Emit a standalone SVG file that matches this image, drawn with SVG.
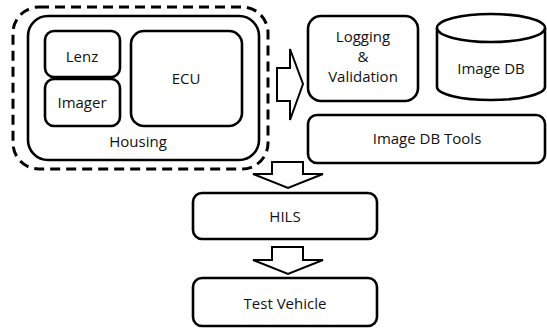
<svg xmlns="http://www.w3.org/2000/svg" width="547" height="330" viewBox="0 0 547 330">
<style>
.b{fill:#fff;stroke:#000;stroke-width:2.6}
.a{fill:#fff;stroke:#000;stroke-width:2;stroke-linejoin:miter}
.d{fill:none;stroke:#000;stroke-width:3;stroke-dasharray:10 6}
text{font-family:"Open Sans","Noto Sans","DejaVu Sans",sans-serif;font-size:15px;fill:#111;text-anchor:middle}
</style>
<rect width="547" height="330" fill="#fff"/>
<g id="camera-group">
<rect class="d" x="13" y="7" width="255" height="162" rx="26"/>
</g>
<g id="housing">
<rect class="b" x="28" y="16" width="231" height="144" rx="20"/>
<text x="138" y="147">Housing</text>
</g>
<g id="lenz">
<rect class="b" x="45" y="31" width="75" height="46" rx="9"/>
<text x="82" y="62">Lenz</text>
</g>
<g id="imager">
<rect class="b" x="45" y="79" width="75" height="47" rx="9"/>
<text x="82" y="108">Imager</text>
</g>
<g id="ecu">
<rect class="b" x="131" y="31" width="111" height="95" rx="13"/>
<text x="186" y="84">ECU</text>
</g>
<g id="logging">
<rect class="b" x="308" y="16" width="110" height="85" rx="13"/>
<text x="363" y="42">Logging</text>
<text x="363" y="62">&amp;</text>
<text x="363" y="82">Validation</text>
</g>
<g id="image-db">
<path class="b" d="M437,28 L437,87 A54,13 0 0,0 545,87 L545,28"/>
<ellipse class="b" cx="491" cy="28" rx="54" ry="14"/>
<text x="491" y="74">Image DB</text>
</g>
<g id="image-db-tools">
<rect class="b" x="308" y="115" width="237" height="48" rx="9"/>
<text x="427" y="144">Image DB Tools</text>
</g>
<g id="hils">
<rect class="b" x="193" y="193" width="184" height="46" rx="9"/>
<text x="285" y="222">HILS</text>
</g>
<g id="test-vehicle">
<rect class="b" x="193" y="278" width="184" height="48" rx="9"/>
<text x="285" y="309">Test Vehicle</text>
</g>
<g id="connectors">
<path class="a" d="M277,68 L290,68 L290,49 L303,84 L290,120 L290,101 L277,101 Z"/>
<path class="a" d="M272,162 L303,162 L303,174 L323,174 L288,188 L253,174 L272,174 Z"/>
<path class="a" d="M272,247 L303,247 L303,260 L323,260 L288,274 L253,260 L272,260 Z"/>
</g>
</svg>
